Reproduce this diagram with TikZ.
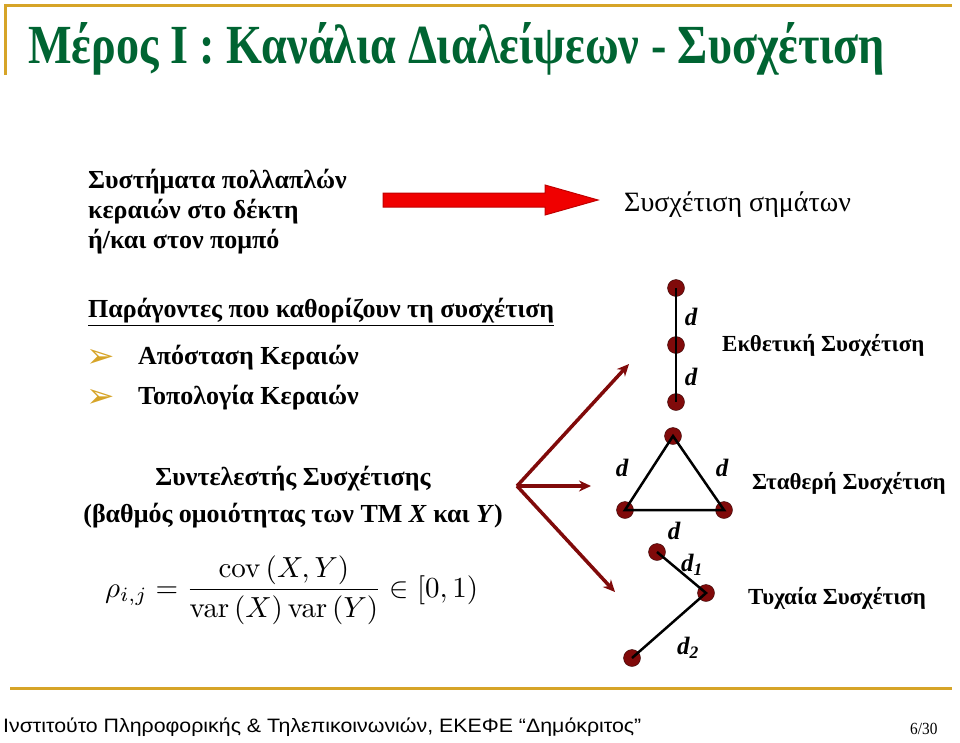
\documentclass[tikz,border=0pt]{standalone}
\usepackage[no-math]{fontspec}
\setmainfont{Liberation Serif}
\newfontfamily\titlefont{Liberation Serif}
\newfontfamily\pagefont[FakeStretch=0.9]{Liberation Serif}
\newfontfamily\footfont[FakeStretch=1.1]{Liberation Sans}
\newfontfamily\symfont{DejaVu Sans}
\usetikzlibrary{arrows.meta}
\definecolor{slidegold}{RGB}{214,164,40}
\definecolor{titlegreen}{RGB}{0,100,50}
\definecolor{antred}{RGB}{128,10,10}
\definecolor{blockred}{RGB}{240,0,0}

\begin{document}
\begin{tikzpicture}[x=1pt,y=-1pt,
  txt/.style={anchor=west,inner sep=0pt,font=\fontsize{26}{30}\selectfont\bfseries,align=left},
  side/.style={anchor=west,inner sep=0pt,font=\fontsize{23}{26}\selectfont\bfseries},
  plain/.style={anchor=west,inner sep=0pt,font=\fontsize{28}{30}\selectfont},
  ant/.style={circle,draw=black!60!antred,fill=antred,minimum size=17pt,inner sep=0pt},
  link/.style={line width=2.5pt},
  lbl/.style={inner sep=0pt,font=\fontsize{25}{25}\selectfont\bfseries\itshape},
  fork/.style={draw=antred,line width=3.5pt,-{Stealth[length=12pt,width=11pt]}},
  bullet/.style={inner sep=0pt,text=slidegold,font=\symfont\fontsize{34}{34}\selectfont}]
\useasboundingbox (0,0) rectangle (960,742);
\draw[slidegold,line width=3pt] (5,75) -- (5,5) -- (952,5);
\draw[slidegold,line width=3pt] (10,688) -- (952,688);
\node[anchor=base west,inner sep=0pt,text=titlegreen] (title) at (28,63)
  {\resizebox{857pt}{41pt}{\fontsize{50}{50}\titlefont\bfseries Μέρος Ι : Κανάλια Διαλείψεων - Συσχέτιση}};

\node[txt] (mimo) at (88,212) {Συστήματα πολλαπλών\\κεραιών στο δέκτη\\ή/και στον πομπό};
\draw[draw=red!75!black,fill=blockred,line width=1pt] (383,193) -- (545,193) -- (545,185) -- (598,200)
  -- (545,215) -- (545,207) -- (383,207) -- cycle;
\node[plain] (sig) at (624,205) {Συσχέτιση σημάτων};

\node[txt] (factors) at (88,312) {\underline{Παράγοντες που καθορίζουν τη συσχέτιση}};
\node[bullet] (b1) at (101,358) {➢};
\node[bullet] (b2) at (101,398) {➢};
\node[txt] (dist) at (138,358) {Απόσταση Κεραιών};
\node[txt] (topo) at (138,398) {Τοπολογία Κεραιών};

\node[txt,anchor=center,align=center,font=\fontsize{26}{37}\selectfont\bfseries] (coef) at (293,497)
  {Συντελεστής Συσχέτισης\\(βαθμός ομοιότητας των ΤΜ \textit{X} και \textit{Y})};
\node[anchor=west,inner sep=0pt] (rho) at (105,590)
  {\resizebox{373pt}{!}{$\displaystyle \rho_{i,j}=\frac{\mathrm{cov}\left(X,Y\right)}{\mathrm{var}\left(X\right)\mathrm{var}\left(Y\right)}\in\left[0,1\right)$}};

\coordinate (fork) at (517,486);
\coordinate (up) at (629,364);
\coordinate (mid) at (591,486);
\coordinate (down) at (615,592);
\draw[fork] (fork) -- (up);
\draw[fork] (fork) -- (mid);
\draw[fork] (fork) -- (down);

\node[ant] (v1) at (676,288) {};
\node[ant] (v2) at (676,345) {};
\node[ant] (v3) at (676,402) {};
\draw[link] (v1.center) -- (v2.center) -- (v3.center);
\node[lbl] (dv1) at (691,317) {d};
\node[lbl] (dv2) at (691,377) {d};
\node[side] (expo) at (722,345) {Εκθετική Συσχέτιση};

\node[ant] (t1) at (673,436) {};
\node[ant] (t2) at (625,510) {};
\node[ant] (t3) at (724,510) {};
\draw[link] (t1.center) -- (t2.center) -- (t3.center) -- cycle;
\node[lbl] (dt1) at (622,468) {d};
\node[lbl] (dt2) at (722,468) {d};
\node[lbl] (dt3) at (674,531) {d};
\node[side] (fixed) at (752,483) {Σταθερή Συσχέτιση};

\node[ant] (r1) at (657,552) {};
\node[ant] (r2) at (706,593) {};
\node[ant] (r3) at (632,658) {};
\draw[link] (r1.center) -- (r2.center) -- (r3.center);
\node[lbl] (dr1) at (692,565) {d\textsubscript{1}};
\node[lbl] (dr2) at (688,648) {d\textsubscript{2}};
\node[side] (rand) at (748,598) {Τυχαία Συσχέτιση};

\node[anchor=west,inner sep=0pt] (foot) at (3,727)
  {\footfont\fontsize{19.4}{20}\selectfont Ινστιτούτο Πληροφορικής \& Τηλεπικοινωνιών, ΕΚΕΦΕ “Δημόκριτος”};
\node[anchor=west,inner sep=0pt] (page) at (910,729) {\pagefont\fontsize{17}{17}\selectfont 6/30};
\end{tikzpicture}
\end{document}
